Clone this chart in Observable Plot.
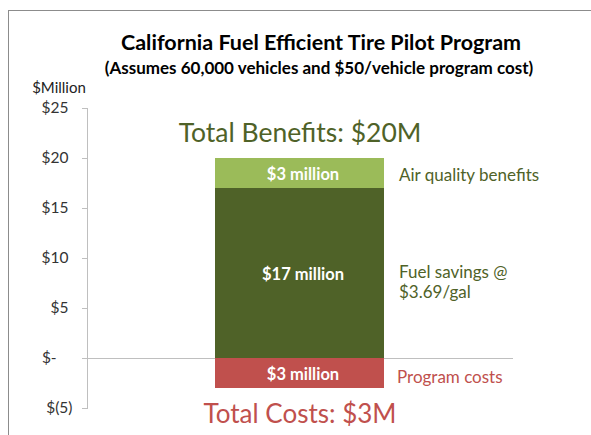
<!DOCTYPE html>
<html>
<head>
<meta charset="utf-8">
<script src="https://cdn.jsdelivr.net/npm/d3@7"></script>
<script src="https://cdn.jsdelivr.net/npm/@observablehq/plot@0.6"></script>
<style>
  html, body { margin: 0; padding: 0; background: #fff; }
  #wrap { position: relative; width: 591px; height: 435px; overflow: hidden; font-family: Lato, "Open Sans", sans-serif; }
  #border { position: absolute; left: 8px; top: 10px; width: 700px; height: 600px; border-top: 1px solid #8c8c8c; border-left: 1px solid #8c8c8c; pointer-events: none; }
  #head { position: relative; height: 96px; }
  .t { position: absolute; transform: translate(-50%, -50%); white-space: nowrap; color: #000; }
  #title { left: 321px; top: 42px; font-weight: bold; font-size: 21.5px; }
  #subtitle { left: 319px; top: 67px; font-weight: bold; font-size: 17px; }
  #unit { left: 59px; top: 87px; font-size: 15px; color: #222; }
  #chart svg { display: block; overflow: visible; }
</style>
</head>
<body>
<div id="wrap">
  <div id="head">
    <div class="t" id="title">California Fuel Efficient Tire Pilot Program</div>
    <div class="t" id="subtitle">(Assumes 60,000 vehicles and $50/vehicle program cost)</div>
    <div class="t" id="unit">$Million</div>
  </div>
  <div id="chart"></div>
  <div id="border"></div>
</div>
<script>
// ---- data ----
const categories = ["Program"];
const series = ["Fuel savings", "Air quality benefits", "Program costs"];
const values = [17, 3, -3];
const barLabels = ["$17 million", "$3 million", "$3 million"];
const sideLabels = ["Fuel savings @\n$3.69/gal", "Air quality benefits", "Program costs"];
const seriesColors = ["#4F6228", "#9BBB59", "#C0504D"];
const totalLabels = ["Total Benefits: $20M", "Total Costs: $3M"];
const totalValues = [20, -3];
const yTicks = [25, 20, 15, 10, 5, 0, -5];
const yTickLabels = ["$25", "$20", "$15", "$10", "$5", "$-", "$(5)"];

const data = series.map((s, i) => ({
  cat: categories[0], series: s, value: values[i], label: barLabels[i], side: sideLabels[i]
}));
const totals = totalLabels.map((t, i) => ({cat: categories[0], label: t, value: totalValues[i]}));

const fmt = v => {
  const s = yTickLabels[yTicks.indexOf(v)];
  if (s === "$-") return s + "\u00a0\u00a0\u00a0\u00a0";
  if (s.endsWith(")")) return s;
  return s + "\u00a0";
};

const green = "#4F6228", red = "#C0504D";
const multiLine = d => d.side.includes("\n");

const chart = Plot.plot({
  width: 591,
  height: 339,
  marginTop: 12,
  marginBottom: 27,
  marginLeft: 87,
  marginRight: 78,
  style: {fontFamily: "Lato, 'Open Sans', sans-serif", background: "transparent", overflow: "visible"},
  x: {domain: categories, padding: 0.43, axis: null},
  y: {domain: [-5, 25], axis: null},
  color: {domain: series, range: seriesColors},
  marks: [
    Plot.frame({anchor: "left", stroke: "#bfbfbf"}),
    Plot.axisY({ticks: yTicks, tickFormat: fmt, tickSize: 5, tickPadding: 10, label: null, stroke: "#bfbfbf", fill: "#333", fontSize: 15.5}),
    Plot.ruleY([0], {stroke: "#bfbfbf"}),
    Plot.barY(data, {x: "cat", y: "value", fill: "series"}),
    Plot.text(data, Plot.stackY({x: "cat", y: "value", text: "label", fill: "white", fontWeight: "bold", fontSize: 16.5, dx: 3, dy: 1})),
    // positive side labels: stacked over all positive rows, multi-line one drawn separately
    Plot.text(data, Plot.stackY({x: "cat", y: "value", text: d => multiLine(d) ? d.side : "", filter: d => d.value > 0, fill: green, textAnchor: "start", dx: 99, dy: 8, fontSize: 17, lineHeight: 1.2})),
    Plot.text(data, Plot.stackY({x: "cat", y: "value", text: d => multiLine(d) ? "" : d.side, filter: d => d.value > 0, fill: green, textAnchor: "start", dx: 99, dy: 2, fontSize: 17})),
    Plot.text(data, Plot.stackY({x: "cat", y: "value", text: "side", filter: d => d.value < 0, fill: red, textAnchor: "start", dx: 97, dy: 4, fontSize: 17})),
    Plot.text(totals.filter(d => d.value > 0), {x: "cat", y: "value", text: "label", fill: green, fontSize: 26.5, dy: -25}),
    Plot.text(totals.filter(d => d.value < 0), {x: "cat", y: "value", text: "label", fill: red, fontSize: 26, dy: 26})
  ]
});
document.getElementById("chart").append(chart);
</script>
</body>
</html>
